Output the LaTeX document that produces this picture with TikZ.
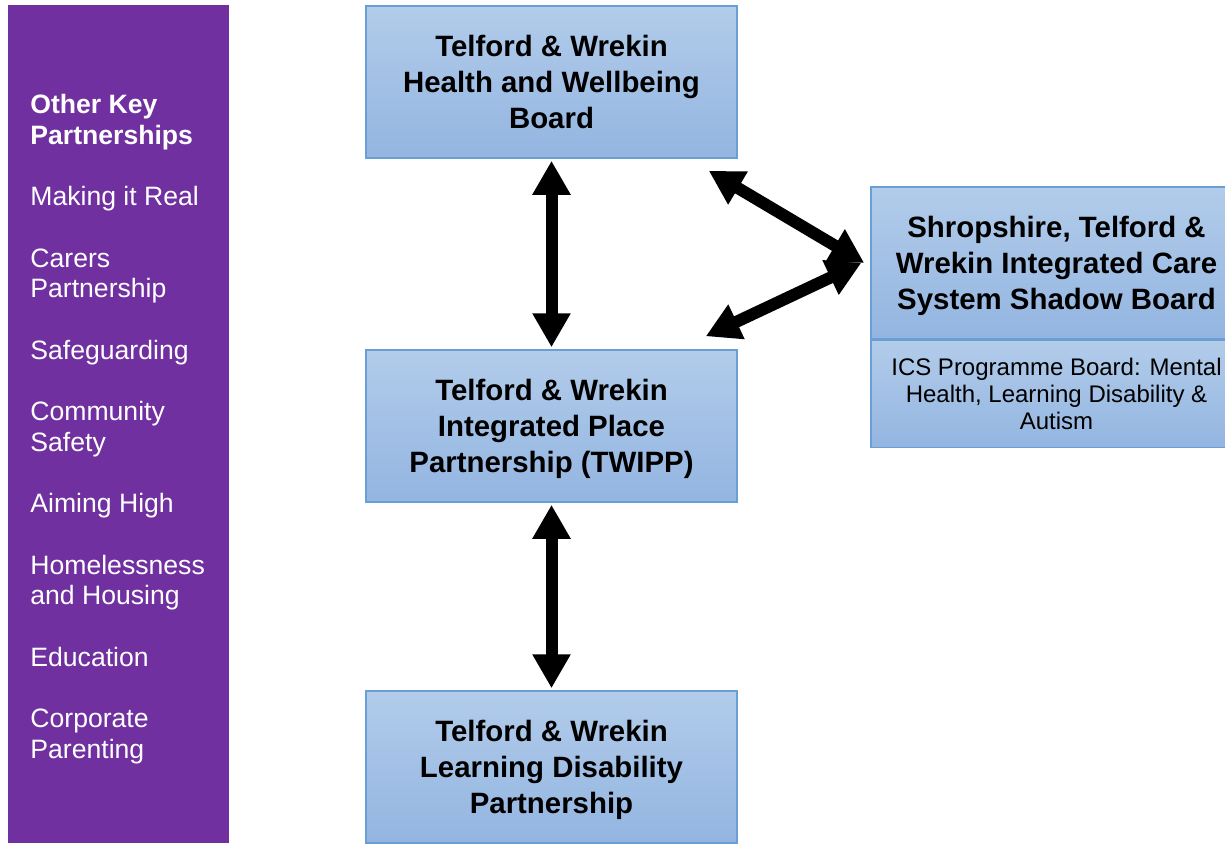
\documentclass[tikz,border=0pt]{standalone}
\usepackage{fontspec}
\setmainfont{Liberation Sans}
\usetikzlibrary{arrows.meta, positioning}
\definecolor{keypurple}{HTML}{7030A0}
\definecolor{boxtop}{HTML}{B2CCEA}
\definecolor{boxbottom}{HTML}{93B5E1}
\definecolor{boxline}{HTML}{6A9FD6}
\tikzset{
    board/.style={rectangle, draw=boxline, line width=0.75pt, top color=boxtop, bottom color=boxbottom, minimum width=185.5pt, minimum height=76pt, align=center, inner sep=0pt, text depth=-1pt, font=\fontsize{14.7}{18}\selectfont\bfseries},
    subboard/.style={board, minimum height=53.5pt, text depth=0pt, font=\fontsize{12}{13.5}\selectfont},
    keylist/.style={align=left, inner sep=0pt, text=white, font=\fontsize{13.3}{15.35}\selectfont},
    link/.style={{Triangle[width=18pt,length=17pt]}-{Triangle[width=18pt,length=17pt]}, line width=6pt},
}

\begin{document}
\begin{tikzpicture}[x=0.5pt, y=-0.5pt]
    \clip (0,0) rectangle (1225,843);
    \fill[white] (0,0) rectangle (1225,843);
    \fill[keypurple] (8,5) rectangle (229,843);

    \node[keylist, anchor=north west] (partners) at (30,94) {\textbf{Other Key}\\\textbf{Partnerships}\\[15.35pt]
        Making it Real\\[15.35pt]
        Carers\\Partnership\\[15.35pt]
        Safeguarding\\[15.35pt]
        Community\\Safety\\[15.35pt]
        Aiming High\\[15.35pt]
        Homelessness\\and Housing\\[15.35pt]
        Education\\[15.35pt]
        Corporate\\Parenting};

    \node[board] (hwb) at (551.5,82) {Telford \& Wrekin\\Health and Wellbeing\\Board};
    \node[board] (twipp) at (551.5,426) {Telford \& Wrekin\\Integrated Place\\Partnership (TWIPP)};
    \node[board] (ldp) at (551.5,767) {Telford \& Wrekin\\Learning Disability\\Partnership};
    \node[board] (icsboard) at (1056.5,263) {Shropshire, Telford \&\\Wrekin Integrated Care\\System Shadow Board};
    \node[subboard, below=0pt of icsboard] (icsprog) {ICS Programme Board: Mental\\Health, Learning Disability \&\\Autism};

    \draw[link, shorten <=1pt, shorten >=1pt] (hwb) -- (twipp);
    \draw[link, shorten <=1pt, shorten >=1pt] (twipp) -- (ldp);
    \draw[link] ([shift={(-29,12)}]hwb.south east) -- ([shift={(-6,0)}]icsboard.west);
    \draw[link] ([shift={(-32,-13)}]twipp.north east) -- ([shift={(-9,0)}]icsboard.west);

\end{tikzpicture}
\end{document}
